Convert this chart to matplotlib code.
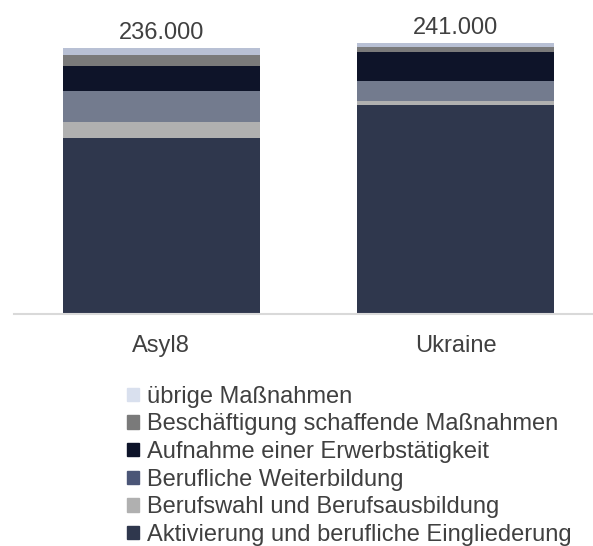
import matplotlib
matplotlib.use("Agg")
import matplotlib.pyplot as plt
from matplotlib.patches import Rectangle
import numpy as np

plt.rcParams['font.family'] = ['Liberation Sans', 'DejaVu Sans']

# data (Teilnehmende)
groups = ["Asyl8", "Ukraine"]
totals = [236000, 241000]
total_labels = ["236.000", "241.000"]
series = [
    "Aktivierung und berufliche Eingliederung",
    "Berufswahl und Berufsausbildung",
    "Berufliche Weiterbildung",
    "Aufnahme einer Erwerbstätigkeit",
    "Beschäftigung schaffende Maßnahmen",
    "übrige Maßnahmen",
]
aktivierung = [156600, 186000]
berufswahl = [13800, 3500]
weiterbildung = [28100, 17700]
aufnahme = [22200, 25300]
beschaeftigung = [8900, 4800]
uebrige = [6400, 3700]
values = [aktivierung, berufswahl, weiterbildung, aufnahme, beschaeftigung, uebrige]

bar_colors = ["#2f374d", "#b0b0b0", "#737b8e", "#0e1429", "#7a7a7a", "#b8c0d4"]
legend_colors = ["#2f374d", "#b0b0b0", "#4b5677", "#0e1429", "#7a7a7a", "#d9e0ee"]
text_color = "#404040"

fig = plt.figure(figsize=(5.93, 5.46), dpi=100)
ax = fig.add_axes([14 / 593, 232 / 546, 589 / 593, 304 / 546])

x = np.arange(len(groups))
bottom = np.zeros(len(groups))
for vals, col in zip(values, bar_colors):
    ax.bar(x, vals, width=0.67, bottom=bottom, color=col, linewidth=0)
    bottom += np.array(vals)

for xi, tot, lab in zip(x, totals, total_labels):
    ax.text(xi, tot + 3500, lab, ha='center', va='bottom', fontsize=17, color=text_color)

ax.set_xlim(-0.5, 1.5)
ax.set_ylim(0, 270000)
ax.set_xticks(x)
ax.set_xticklabels(groups, fontsize=17, color=text_color)
ax.tick_params(axis='x', length=0, pad=15)
ax.set_yticks([])
for s in ['top', 'right', 'left']:
    ax.spines[s].set_visible(False)
ax.spines['bottom'].set_color('#d9d9d9')
ax.spines['bottom'].set_linewidth(1.5)

handles = [Rectangle((0, 0), 1, 1, color=c) for c in legend_colors]
leg = fig.legend(handles[::-1], series[::-1], loc='upper left',
                 bbox_to_anchor=(115 / 593, 1 - 374 / 546), frameon=False,
                 fontsize=17, handlelength=0.5, handleheight=0.5,
                 handletextpad=0.35, labelspacing=0.24, borderpad=0)
for t in leg.get_texts():
    t.set_color(text_color)

fig.savefig("out.png", dpi=100)
